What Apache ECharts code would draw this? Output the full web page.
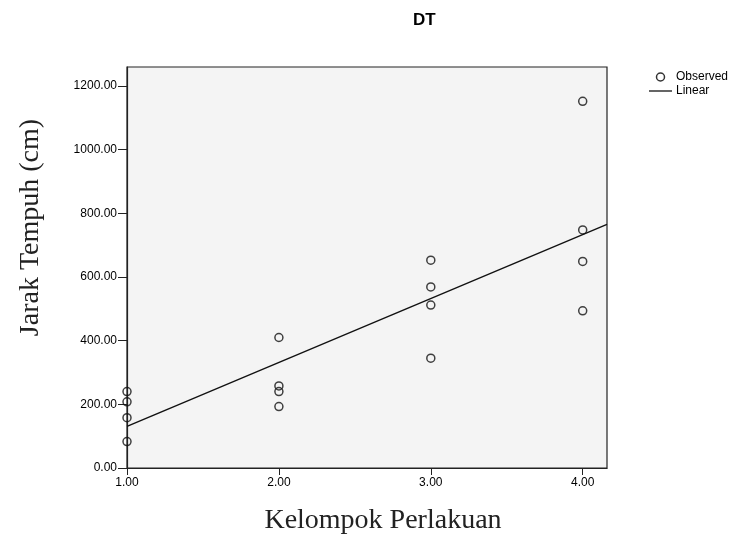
<!DOCTYPE html>
<html lang="id">
<head>
    <meta charset="UTF-8">
    <title>DT</title>
    <script src="https://cdn.jsdelivr.net/npm/echarts@6/dist/echarts.min.js"></script>
    <style>
        body { margin: 0; background: #fff; }
        #chart { width: 733px; height: 540px; }
    </style>
</head>
<body>
    <div id="chart"></div>

    <script>
        // observed points (x = kelompok perlakuan, y = jarak tempuh)
        const obsX = [1, 1, 1, 1, 2, 2, 2, 2, 3, 3, 3, 3, 4, 4, 4, 4];
        const obsY = [240, 208, 158, 83, 410, 258, 240, 193, 653, 569, 512, 345, 1152, 748, 649, 494];
        const xTicks = [1, 2, 3, 4];
        const yTicks = [0, 200, 400, 600, 800, 1000, 1200];
        const xMin = 1, xMax = 4.16;
        const yMin = 0, yMax = 1260;

        // least squares fit of the observed values
        function linearFit(xs, ys) {
            var n = xs.length, mx = 0, my = 0;
            for (var i = 0; i < n; i++) { mx += xs[i]; my += ys[i]; }
            mx /= n; my /= n;
            var sxy = 0, sxx = 0;
            for (var i = 0; i < n; i++) {
                sxy += (xs[i] - mx) * (ys[i] - my);
                sxx += (xs[i] - mx) * (xs[i] - mx);
            }
            var b = sxy / sxx;
            return { a: my - b * mx, b: b };
        }

        var fit = linearFit(obsX, obsY);
        var fitLine = [xMin, xMax].map(x => [x, fit.a + fit.b * x]);

        var chartDom = document.getElementById('chart');
        var myChart = echarts.init(chartDom);
        var labelFont = { fontFamily: 'Liberation Sans', fontSize: 12, color: '#000' };

        var option = {
            animation: false,
            title: {
                text: 'DT',
                left: 408,
                top: 7,
                textStyle: { fontFamily: 'Liberation Sans', fontSize: 17, fontWeight: 'bold', color: '#000' }
            },
            legend: {
                orient: 'vertical',
                left: 644,
                top: 66,
                itemWidth: 23,
                itemHeight: 8,
                itemGap: 2,
                textStyle: Object.assign({ padding: [0, 0, 0, -1] }, labelFont),
                data: [
                    { name: 'Observed', icon: 'circle', itemStyle: { color: 'transparent', borderColor: '#000', borderWidth: 1.5 } },
                    { name: 'Linear', icon: 'path://M0,0H23V1.3H0Z', itemStyle: { color: '#111', borderWidth: 0 } }
                ]
            },
            grid: {
                left: 127,
                top: 67,
                right: 126,
                bottom: 71,
                show: true,
                backgroundColor: '#f4f4f4',
                borderColor: '#222',
                borderWidth: 1.2
            },
            xAxis: {
                type: 'value',
                min: xMin,
                max: xMax,
                interval: 1,
                name: 'Kelompok Perlakuan',
                nameLocation: 'middle',
                nameGap: 39,
                nameTextStyle: { fontFamily: 'Liberation Serif', fontSize: 28, color: '#222', padding: [0, 0, 0, 32] },
                splitLine: { show: false },
                axisLine: { lineStyle: { color: '#222', width: 1.2 } },
                axisTick: { length: 7, customValues: xTicks, lineStyle: { color: '#222' } },
                axisLabel: Object.assign({ margin: 9, customValues: xTicks, formatter: v => v.toFixed(2) }, labelFont)
            },
            yAxis: {
                type: 'value',
                min: yMin,
                max: yMax,
                interval: 200,
                name: 'Jarak Tempuh (cm)',
                nameLocation: 'middle',
                nameGap: 82,
                nameTextStyle: { fontFamily: 'Liberation Serif', fontSize: 28, color: '#222', padding: [0, 0, 0, 80] },
                splitLine: { show: false },
                axisLine: { show: true, lineStyle: { color: '#222', width: 1.2 } },
                axisTick: { show: true, length: 9, customValues: yTicks, lineStyle: { color: '#222' } },
                axisLabel: Object.assign({ margin: 10, customValues: yTicks, formatter: v => v.toFixed(2) }, labelFont)
            },
            series: [
                {
                    name: 'Linear',
                    type: 'line',
                    data: fitLine,
                    symbol: 'none',
                    lineStyle: { color: '#111', width: 1.4 },
                    itemStyle: { color: '#111' },
                    z: 2
                },
                {
                    name: 'Observed',
                    type: 'scatter',
                    data: obsX.map((x, i) => [x, obsY[i]]),
                    symbol: 'circle',
                    symbolSize: 8,
                    itemStyle: { color: 'transparent', borderColor: '#111', borderWidth: 1.5 },
                    z: 3
                }
            ]
        };
        myChart.setOption(option);
    </script>
</body>
</html>
